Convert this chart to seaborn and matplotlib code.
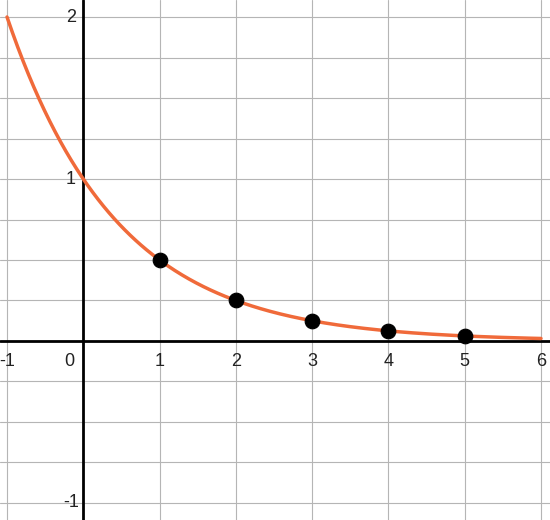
import matplotlib
matplotlib.use('Agg')
import matplotlib.pyplot as plt
import seaborn as sns
import numpy as np
import pandas as pd

# function shown: y = base ** x
base = 0.5
point_x = [1, 2, 3, 4, 5]
point_y = [0.5, 0.25, 0.125, 0.0625, 0.03]
x_ticks = [-1, 0, 1, 2, 3, 4, 5, 6]
y_ticks = [-1, 1, 2]

sns.set_theme(style='white')
plt.rcParams['font.family'] = ['Liberation Sans', 'DejaVu Sans']

fig = plt.figure(figsize=(5.5, 5.2), dpi=100)
ax = fig.add_axes([0, 0, 1, 1])
ax.set_xlim(-1.092, 6.118)
ax.set_ylim(-1.105, 2.105)
for s in ax.spines.values():
    s.set_visible(False)
ax.set_xticks([])
ax.set_yticks([])

for gx in range(-1, 7):
    ax.axvline(gx, color='#b5b5b5', lw=0.8, zorder=0)
for gy in np.arange(-1, 2.01, 0.25):
    ax.axhline(gy, color='#b5b5b5', lw=0.8, zorder=0)
ax.axhline(0, color='black', lw=2, zorder=1)
ax.axvline(0, color='black', lw=2, zorder=1)

xs = np.linspace(-1, 6, 300)
curve = pd.DataFrame({'x': xs, 'y': base ** xs})
sns.lineplot(data=curve, x='x', y='y', color='#f06a3a', lw=2.5, ax=ax, zorder=2)
pts = pd.DataFrame({'x': point_x, 'y': point_y})
sns.scatterplot(data=pts, x='x', y='y', color='black', s=110, edgecolor='black', ax=ax, zorder=3)
ax.set_xlabel('')
ax.set_ylabel('')

for t in x_ticks:
    xt = -0.18 if t == 0 else t
    if t == -1:
        xt = -1.0
    ax.text(xt, -0.125, str(t), ha='center', va='center', fontsize=13, color='#222222')
for t in y_ticks:
    ax.text(-0.16, t, str(t), ha='center', va='center', fontsize=13, color='#222222')

fig.savefig('out.png', dpi=100)
